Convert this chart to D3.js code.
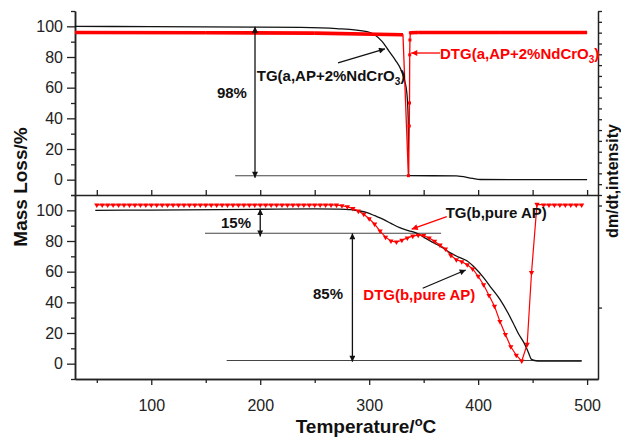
<!DOCTYPE html>
<html>
<head>
<meta charset="utf-8">
<script src="https://cdn.jsdelivr.net/npm/d3@7"></script>
<style>
  body { margin: 0; background: #fff; }
  text { font-family: Arial, "Liberation Sans", sans-serif; }
</style>
</head>
<body>
<div id="chart"></div>
<script>
// ---------- data ----------
const xTicks = [100, 200, 300, 400, 500];
const xMinor = [50, 150, 250, 350, 450];
const yTicks = [0, 20, 40, 60, 80, 100];
const yMinor = [-10, 10, 30, 50, 70, 90, 110];
const dtgTicksTop = d3.range(0, 18);
const dtgTicksBot = [-1, 0];

// (a) AP + 2% NdCrO3, top panel  [temperature, value]
const tgA = [[30,100],[100,99.8],[200,99.5],[237,99.3],[270,98.5],[298,96.5],[305,94.5],[312,90],
  [318,84],[324,78],[329,72],[332,66],[334.5,57],[335.8,40],[336.2,2.6],[380,2.5],[395,0.8],[402,0.1],[500,0]];
const dtgA = [[30,96],[150,95.8],[250,95.6],[331,94.5],[336,2.6],[336.8,35],[337,50],[337.2,81.4],
  [337.4,91.1],[337.8,95.8],[345,96],[420,96],[500,96]];

// (b) pure AP, bottom panel
const tgB = [[48.6,100],[100,100.2],[200,100.7],[250,101],[270,100.8],[283,100.4],[290,99.7],[298,98.5],
  [305,96.5],[313,94.1],[320,91.5],[328,88.7],[336,86.8],[344,85],[351,82],[359,78.9],[367,75.8],
  [374,72.4],[382,69.5],[390,66.9],[397,62.5],[405,56.1],[412,49.5],[420,41.9],[427,33.5],[432,26.7],
  [437,19.5],[442,13.7],[446,7.5],[449,2.8],[453,1.9],[457,1.7],[495,1.7]];
const dtgB = [[50,103.5],[55,103.5],[60,103.5],[65,103.5],[70,103.5],[75,103.5],[80,103.5],[85,103.5],
  [90,103.5],[95,103.5],[100,103.5],[105,103.5],[110,103.5],[115,103.5],[120,103.5],[125,103.5],
  [130,103.5],[135,103.5],[140,103.5],[145,103.5],[150,103.5],[155,103.5],[160,103.5],[165,103.5],
  [170,103.5],[175,103.5],[180,103.5],[185,103.5],[190,103.5],[195,103.5],[200,103.5],[205,103.5],
  [210,103.5],[215,103.5],[220,103.5],[225,103.5],[230,103.5],[235,103.5],[240,103.5],[245,103.5],
  [250,103.5],[255,103.5],[260,103.5],[265,103.5],[270,103.4],[275,103],[280,102.3],[285,101.2],
  [290,99.5],[295,97.4],[300,94.5],[305,91],[310,86.5],[315,82.5],[320,80],[325,79.3],[330,80.5],
  [335,82],[340,83.2],[345,83.8],[350,83.6],[355,82],[360,79.8],[365,77.3],[370,74.8],[375,70.5],
  [380,67.8],[385,66.5],[390,64.5],[395,61.8],[400,57],[405,51.5],[410,44.5],[415,37.5],[420,27.5],
  [425,19],[430,11],[435,5.5],[440,1.7],[445,12.6],[449,59.4],[454,103.9],[460,103.5],[465,103.5],
  [470,103.5],[475,103.5],[480,103.5],[485,103.5],[490,103.5],[495,103.5]];

// ---------- layout ----------
const width = 621, height = 437;
const svg = d3.select("#chart").append("svg")
  .attr("width", width).attr("height", height);

const x = d3.scaleLinear().domain([30, 510]).range([75, 598]);
const yTop = d3.scaleLinear().domain([-10, 110]).range([195, 11]);
const yBot = d3.scaleLinear().domain([-10, 110]).range([379, 195]);
const rTop = d3.scaleLinear().domain([0, 17]).range([195, 11]);
const rBot = d3.scaleLinear().domain([-1.7, 0.103]).range([379, 195]);

// arrow heads
const defs = svg.append("defs");
[["arrowK", "#111"], ["arrowR", "#f00"]].forEach(([id, c]) => {
  defs.append("marker").attr("id", id)
    .attr("viewBox", "0 0 10 10").attr("refX", 10).attr("refY", 5)
    .attr("markerWidth", 8).attr("markerHeight", 6)
    .attr("markerUnits", "userSpaceOnUse").attr("orient", "auto-start-reverse")
    .append("path").attr("d", "M0,0L10,5L0,10z").attr("fill", c);
});

// ---------- axes ----------
const styleAxis = g => {
  g.select(".domain").attr("stroke", "#222").attr("stroke-width", 1.5);
  g.selectAll(".tick line").attr("stroke", "#222").attr("stroke-width", 1.3);
  g.selectAll(".tick text").attr("font-size", 16).attr("fill", "#222")
    .attr("font-family", "Arial, 'Liberation Sans', sans-serif");
};

[yTop, yBot].forEach(ys => {
  svg.append("g").attr("transform", "translate(75,0)")
    .call(d3.axisLeft(ys).tickValues(yTicks).tickSize(8).tickPadding(4).tickSizeOuter(0))
    .call(styleAxis);
  svg.append("g").attr("transform", "translate(75,0)")
    .call(d3.axisLeft(ys).tickValues(yMinor).tickSize(4).tickFormat("").tickSizeOuter(0))
    .call(styleAxis);
});

// top panel x axis (ticks pointing inside)
svg.append("g").attr("transform", "translate(0,195)")
  .call(d3.axisBottom(x).tickValues(xTicks.concat(xMinor)).tickSize(-5).tickFormat("").tickSizeOuter(0))
  .call(styleAxis);

// bottom x axis
svg.append("g").attr("transform", "translate(0,379)")
  .call(d3.axisBottom(x).tickValues(xTicks).tickSize(6).tickPadding(15).tickSizeOuter(0))
  .call(styleAxis);
svg.append("g").attr("transform", "translate(0,379)")
  .call(d3.axisBottom(x).tickValues(xMinor).tickSize(4).tickFormat("").tickSizeOuter(0))
  .call(styleAxis);

// right dm/dt axis
svg.append("g").attr("transform", "translate(598,0)")
  .call(d3.axisRight(rTop).tickValues(dtgTicksTop).tickSize(4).tickFormat("").tickSizeOuter(0))
  .call(styleAxis);
svg.append("g").attr("transform", "translate(598,0)")
  .call(d3.axisRight(rBot).tickValues(dtgTicksBot).tickSize(4).tickFormat("").tickSizeOuter(0))
  .call(styleAxis);

// axis titles
svg.append("text")
  .attr("transform", "translate(27,187) rotate(-90)")
  .attr("text-anchor", "middle").attr("font-size", 19).attr("font-weight", "bold")
  .attr("fill", "#111").text("Mass Loss/%");

svg.append("text")
  .attr("transform", "translate(618,181) rotate(-90)")
  .attr("text-anchor", "middle").attr("font-size", 16).attr("font-weight", "bold")
  .attr("fill", "#111").text("dm/dt,intensity");

const xt = svg.append("text")
  .attr("x", 366).attr("y", 433)
  .attr("text-anchor", "middle").attr("font-size", 19).attr("font-weight", "bold")
  .attr("fill", "#111");
xt.append("tspan").text("Temperature/");
xt.append("tspan").attr("font-size", 13).attr("dy", -7).text("o");
xt.append("tspan").attr("dy", 7).text("C");

// ---------- curves ----------
const lineTop = d3.line().x(d => x(d[0])).y(d => yTop(d[1]));
const lineBot = d3.line().x(d => x(d[0])).y(d => yBot(d[1]));

// reference lines
const refLine = (ys, t0, t1, v) => svg.append("line")
  .attr("x1", x(t0)).attr("x2", x(t1)).attr("y1", ys(v)).attr("y2", ys(v))
  .attr("stroke", "#444").attr("stroke-width", 1.1);
refLine(yTop, 177, 336, 2.6);
refLine(yBot, 149.3, 366, 85.1);
refLine(yBot, 169.2, 495, 2.1);

// TG curves
svg.append("path").attr("d", lineTop.curve(d3.curveMonotoneX)(tgA))
  .attr("fill", "none").attr("stroke", "#111").attr("stroke-width", 1.3);
svg.append("path").attr("d", lineBot.curve(d3.curveMonotoneX)(tgB))
  .attr("fill", "none").attr("stroke", "#111").attr("stroke-width", 1.3);

// DTG (a): dense flat parts drawn thick, steep parts thin with square markers
lineTop.curve(d3.curveLinear);
svg.append("path").attr("d", lineTop(dtgA))
  .attr("fill", "none").attr("stroke", "#f00").attr("stroke-width", 1.3);
svg.append("g").selectAll("line")
  .data(d3.pairs(dtgA).filter(([a, b]) => Math.abs(b[1] - a[1]) < 3))
  .join("line")
    .attr("x1", d => x(d[0][0])).attr("y1", d => yTop(d[0][1]))
    .attr("x2", d => x(d[1][0])).attr("y2", d => yTop(d[1][1]))
    .attr("stroke", "#f00").attr("stroke-width", 3.6);
svg.append("g").selectAll("path")
  .data(dtgA.slice(4, 10))
  .join("path")
    .attr("d", d3.symbol(d3.symbolSquare, 9))
    .attr("transform", d => `translate(${x(d[0])},${yTop(d[1])})`)
    .attr("fill", "#f00");

// DTG (b): line with down triangles
lineBot.curve(d3.curveLinear);
svg.append("path").attr("d", lineBot(dtgB))
  .attr("fill", "none").attr("stroke", "#f00").attr("stroke-width", 1.2);
svg.append("g").selectAll("path")
  .data(dtgB)
  .join("path")
    .attr("d", d3.symbol(d3.symbolTriangle, 12))
    .attr("transform", d => `translate(${x(d[0])},${yBot(d[1])}) rotate(180)`)
    .attr("fill", "#f00");

// ---------- annotations ----------
const arrow = (ys, t0, v0, t1, v1, color, both) => {
  const l = svg.append("line")
    .attr("x1", x(t0)).attr("y1", ys(v0)).attr("x2", x(t1)).attr("y2", ys(v1))
    .attr("stroke", color).attr("stroke-width", 1.3)
    .attr("marker-end", `url(#${color === "#f00" ? "arrowR" : "arrowK"})`);
  if (both) l.attr("marker-start", "url(#arrowK)");
};
const label = (ys, t, v, color, parts, anchor) => {
  const tx = svg.append("text").attr("x", x(t)).attr("y", ys(v))
    .attr("font-size", 15).attr("font-weight", "bold").attr("fill", color)
    .attr("text-anchor", anchor || "start");
  let shifted = false;
  parts.forEach(([s, sub]) => {
    const ts = tx.append("tspan").text(s);
    if (sub) { ts.attr("font-size", 10).attr("dy", 4); shifted = true; }
    else if (shifted) { ts.attr("dy", -4); shifted = false; }
  });
};

// top panel
arrow(yTop, 195.2, 99.8, 195.2, 1.2, "#111", true);
label(yTop, 174, 53, "#111", [["98%"]], "middle");
label(yTop, 196.8, 64.5, "#111", [["TG(a,AP+2%NdCrO"], ["3", true], [")"]]);
arrow(yTop, 271.4, 76.1, 314.5, 85.3, "#111");
label(yTop, 365, 79, "#f00", [["DTG(a,AP+2%NdCrO"], ["3", true], [")"]]);
arrow(yTop, 365, 82.6, 338.6, 82.6, "#f00");

// bottom panel
arrow(yBot, 200, 100.8, 200, 83, "#111", true);
label(yBot, 177.8, 88.2, "#111", [["15%"]], "middle");
arrow(yBot, 284.6, 85, 284.6, 1.3, "#111", true);
label(yBot, 262.2, 41.9, "#111", [["85%"]], "middle");
label(yBot, 370.2, 95, "#111", [["TG(b,pure AP)"]]);
arrow(yBot, 371.2, 95.9, 339, 87.7, "#f00");
label(yBot, 294.6, 41.2, "#f00", [["DTG(b,pure AP)"]]);
arrow(yBot, 349.1, 49.2, 388.6, 61.1, "#111");
</script>
</body>
</html>
